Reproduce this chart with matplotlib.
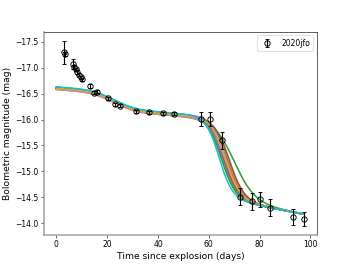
import numpy as np
import matplotlib
matplotlib.use("Agg")
import matplotlib.pyplot as plt

# Observed bolometric light curve of SN 2020jfo
t_obs = [2.8, 3.3, 6.4, 7.1, 7.6, 8.2, 8.8, 9.5, 10.2, 13.4, 14.7, 16.0, 20.3,
         23.2, 25.2, 31.5, 36.3, 42.0, 46.2, 56.9, 60.4, 65.2, 72.2, 77.0,
         80.0, 84.0, 93.2, 97.6]
m_obs = [-17.30, -17.26, -17.07, -17.01, -16.97, -16.92, -16.87, -16.82,
         -16.78, -16.65, -16.52, -16.54, -16.41, -16.30, -16.27, -16.16,
         -16.14, -16.12, -16.11, -16.01, -16.01, -15.60, -14.51, -14.42,
         -14.46, -14.30, -14.12, -14.08]
e_obs = [0.22, 0.04, 0.10, 0.04, 0.03, 0.03, 0.03, 0.03, 0.03, 0.04, 0.03,
         0.03, 0.03, 0.03, 0.03, 0.03, 0.03, 0.03, 0.03, 0.13, 0.13, 0.16,
         0.16, 0.16, 0.15, 0.17, 0.15, 0.13]

# Model light-curve fit samples: drop time, drop width, plateau level shift
t_pt = [66.0, 66.8, 69.8, 65.6, 67.2, 66.4, 67.0, 65.8, 67.6, 64.8,
        66.2, 67.4, 65.0, 65.9, 66.9, 68.0, 66.3, 65.4, 66.6, 64.0]
w0 = [2.8, 2.9, 4.0, 2.8, 3.0, 2.8, 2.9, 3.0, 2.8, 2.9,
      2.8, 3.0, 2.7, 2.9, 2.8, 2.9, 3.0, 2.8, 2.8, 2.6]
dplat = [0.00, -0.01, 0.02, 0.00, -0.02, 0.01, 0.00, -0.01, 0.02, -0.02,
         0.00, -0.01, 0.01, 0.00, -0.02, 0.01, 0.02, -0.01, 0.00, -0.03]
# shared shape parameters
plat_ref, plat_slope = -16.10, 0.004     # plateau level at day 46, slope
tail_ref, tail_slope = -14.30, 0.0095    # tail level at day 84, slope
gP, gR = 0.32, 25.0                      # early shoulder

plt.rcParams['font.family'] = ['DejaVu Sans']
fig, ax = plt.subplots(figsize=(6.4, 4.8), dpi=55)

t_model = np.linspace(0, 97, 400)
for tp, w, d in zip(t_pt, w0, dplat):
    plat = plat_ref + d + plat_slope * (t_model - 46) \
        - gP * np.exp(-(t_model / gR) ** 4)
    tail = tail_ref + tail_slope * (t_model - 84)
    fd = 1 / (1 + np.exp((t_model - tp) / w))
    ax.plot(t_model, fd * plat + (1 - fd) * tail, lw=2)

ax.errorbar(t_obs, m_obs, yerr=e_obs, fmt='o', mfc='none', mec='black',
            ecolor='black', color='black', ms=7, capsize=3, elinewidth=1.5,
            mew=1.2, label='2020jfo')

ax.invert_yaxis()
ax.set_xlabel('Time since explosion (days)', fontsize=12)
ax.set_ylabel('Bolometric magnitude (mag)', fontsize=12)
ax.legend(loc='upper right')
for s in ['left', 'bottom']:
    ax.spines[s].set_color('#a0a0a0')
    ax.spines[s].set_linewidth(2)

fig.savefig('out.png', dpi=55)
